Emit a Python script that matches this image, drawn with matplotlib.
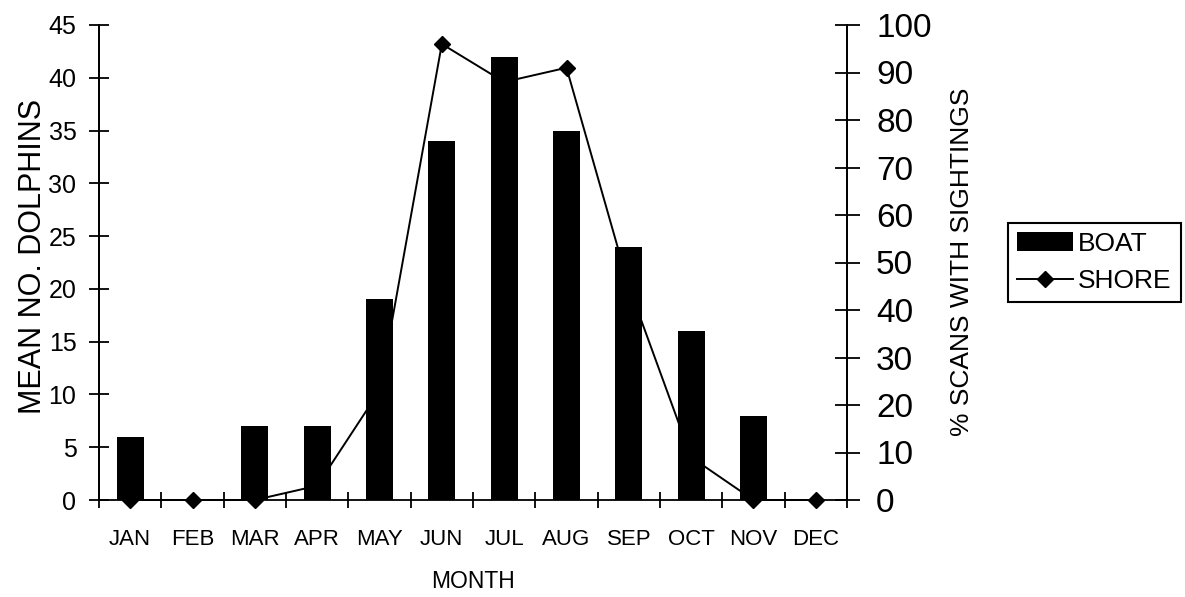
import numpy as np
import matplotlib
matplotlib.use('Agg')
from matplotlib import pyplot as plt

plt.rcParams['font.family'] = ['Liberation Sans', 'DejaVu Sans']

months = ['JAN', 'FEB', 'MAR', 'APR', 'MAY', 'JUN', 'JUL', 'AUG', 'SEP', 'OCT', 'NOV', 'DEC']
boat = [6, 0, 7, 7, 19, 34, 42, 35, 24, 16, 8, 0]
shore = [0, 0, 0, 3, 23, 96, 88, 91, 45, 9, 0, 0]

fig = plt.figure(figsize=(11.85, 5.97), dpi=100)
ax = fig.add_axes([99 / 1185, 1 - 500 / 597, 748 / 1185, 475 / 597])
ax2 = ax.twinx()

x = np.arange(len(months))
# line behind the bars
ax2.plot(x, shore, color='black', linewidth=1.4, marker='D', markersize=8.5,
         clip_on=False, label='SHORE')
ax.bar(x, boat, width=0.43, color='black', label='BOAT')
ax.set_zorder(ax2.get_zorder() + 1)
ax.patch.set_visible(False)

ax.set_xlim(-0.5, 11.5)
ax.set_ylim(0, 45)
ax2.set_ylim(0, 100)

ax.set_yticks(np.arange(0, 46, 5))
ax2.set_yticks(np.arange(0, 101, 10))
ax.set_xticks(np.arange(-0.5, 12, 1))
ax.set_xticklabels([])
ax.set_xticks(x, minor=True)
ax.set_xticklabels(months, minor=True)
ax.tick_params(axis='x', which='major', direction='inout', length=11, width=1.3)
ax.tick_params(axis='x', which='minor', length=0, pad=21, labelsize=16)
ax.tick_params(axis='y', direction='inout', length=14.5, width=1.3, labelsize=18, pad=9)
ax2.tick_params(axis='y', direction='inout', length=18, width=1.3, labelsize=24, pad=12)

for a in (ax, ax2):
    a.spines['top'].set_visible(False)
    for s in a.spines.values():
        s.set_linewidth(1.3)
ax2.spines['bottom'].set_visible(False)

ax.set_xlabel('MONTH', fontsize=16.5, labelpad=14)
fig.text(33 / 1185, 1 - 256 / 597, 'MEAN NO. DOLPHINS', rotation=90,
         ha='center', va='center', fontsize=22)
fig.text(962 / 1185, 1 - 262 / 597, '% SCANS WITH SIGHTINGS', rotation=90,
         ha='center', va='center', fontsize=19)

h1, l1 = ax.get_legend_handles_labels()
h2, l2 = ax2.get_legend_handles_labels()
leg = fig.legend(h1 + h2, l1 + l2, loc='center left',
                 bbox_to_anchor=(1008 / 1185, 1 - 262.5 / 597),
                 fontsize=19, handlelength=2.1, handletextpad=0.2,
                 labelspacing=0.5, borderpad=0.35, borderaxespad=0,
                 fancybox=False, framealpha=1, edgecolor='black')
leg.get_frame().set_linewidth(1.5)

plt.savefig('out.png', dpi=100)
